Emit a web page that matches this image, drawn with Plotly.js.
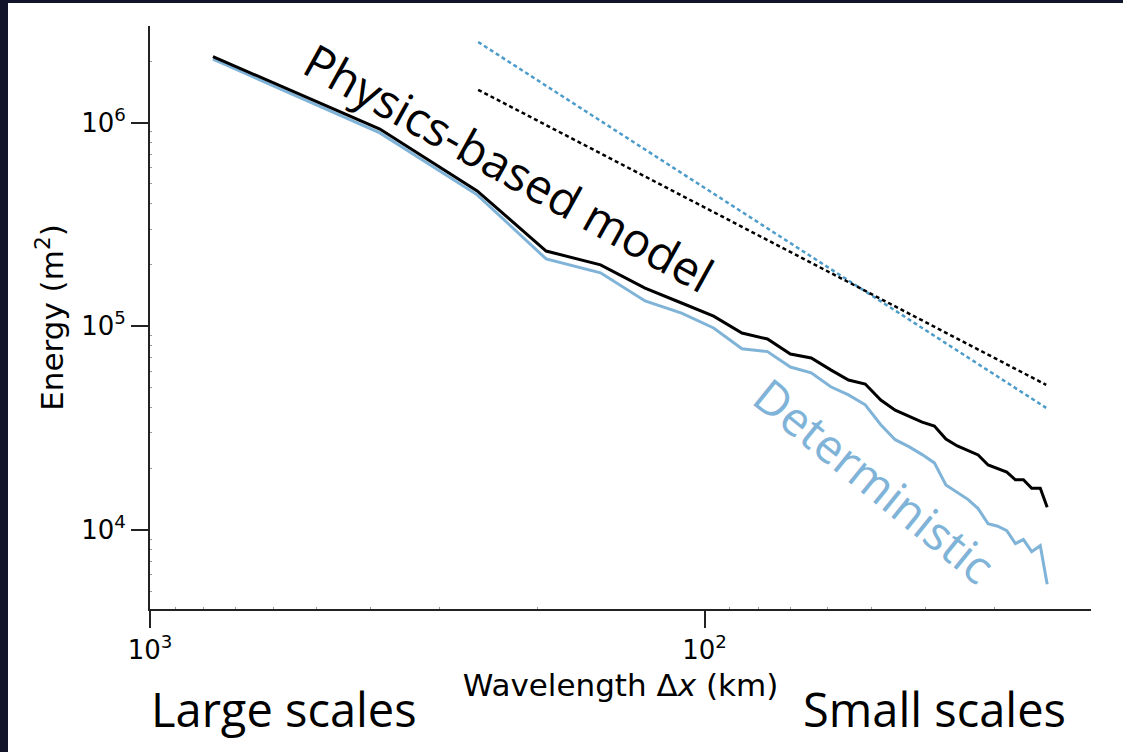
<!DOCTYPE html>
<html>
<head>
<meta charset="utf-8">
<script src="https://cdn.plot.ly/plotly-3.0.1.min.js"></script>
<style>
  html, body { margin: 0; padding: 0; background: #12152a; width: 1123px; height: 752px; overflow: hidden; }
  #chart { position: absolute; left: 8px; top: 3px; width: 1115px; height: 749px; background: #ffffff; }
</style>
</head>
<body>
<div id="chart"></div>
<script>
// Wavelength (km) of each spectral point
const wavelengthKm = [770, 385, 257, 193, 154, 128, 110, 96.3, 85.6, 77, 70, 64.2, 59.2, 55, 51.3, 48.1,
                      45.3, 42.8, 40.5, 38.5, 36.7, 35, 33.5, 32.1, 30.8, 29.6, 28.5, 27.5, 26.6, 25.7, 24.8, 24.1];
// Energy (m^2) – physics-based model (black)
const physicsEnergy = [2.11e6, 9.3e5, 4.62e5, 2.34e5, 2.0e5, 1.54e5, 1.30e5, 1.12e5, 9.25e4, 8.65e4, 7.3e4, 6.98e4,
                       6.1e4, 5.44e4, 5.2e4, 4.34e4, 3.87e4, 3.62e4, 3.38e4, 3.23e4, 2.79e4, 2.58e4, 2.46e4, 2.33e4,
                       2.08e4, 1.99e4, 1.92e4, 1.76e4, 1.76e4, 1.60e4, 1.60e4, 1.29e4];
// Energy (m^2) – deterministic model (light blue)
const deterministicEnergy = [2.05e6, 8.9e5, 4.42e5, 2.14e5, 1.83e5, 1.33e5, 1.16e5, 9.8e4, 7.75e4, 7.5e4, 6.3e4, 5.9e4,
                             5.04e4, 4.6e4, 4.11e4, 3.28e4, 2.77e4, 2.56e4, 2.34e4, 2.13e4, 1.66e4, 1.52e4, 1.41e4, 1.27e4,
                             1.07e4, 1.04e4, 9.9e3, 8.55e3, 8.95e3, 7.8e3, 8.35e3, 5.4e3];
// Reference slope lines (dotted)
const refWavelengthKm = [256, 24.2];
const refPhysicsEnergy = [1.45e6, 5.15e4];
const refDeterministicEnergy = [2.49e6, 3.97e4];

const BLUE = '#80b3d8';
const BLUE_DASH = '#4d9cca';

const traces = [
  { x: wavelengthKm, y: deterministicEnergy, type: 'scatter', mode: 'lines', name: 'Deterministic',
    line: { color: BLUE, width: 3 } },
  { x: wavelengthKm, y: physicsEnergy, type: 'scatter', mode: 'lines', name: 'Physics-based model',
    line: { color: '#000000', width: 3 } },
  { x: refWavelengthKm, y: refDeterministicEnergy, type: 'scatter', mode: 'lines', name: 'Deterministic slope',
    line: { color: BLUE_DASH, width: 2.5, dash: '4px,3px' } },
  { x: refWavelengthKm, y: refPhysicsEnergy, type: 'scatter', mode: 'lines', name: 'Physics slope',
    line: { color: '#000000', width: 2.5, dash: '4px,3px' } }
];

const tickFont = { family: 'DejaVu Sans', size: 26, color: '#000000' };
const labelFont = { family: 'DejaVu Sans', size: 31, color: '#000000' };
const noteFont = (c) => ({ family: 'Open Sans', size: 47, color: c });

const layout = {
  width: 1115, height: 749,
  margin: { l: 142, r: 32, t: 23, b: 143 },
  paper_bgcolor: '#ffffff', plot_bgcolor: '#ffffff',
  showlegend: false,
  xaxis: {
    type: 'log', range: [3, 1.303], autorange: false,
    showgrid: false, zeroline: false,
    showline: true, linecolor: '#222222', linewidth: 2,
    ticks: 'outside', ticklen: 17, tickwidth: 2, tickcolor: '#222222',
    tickvals: [1000, 100], ticktext: ['10<sup>3</sup>', '10<sup>2</sup>'],
    tickfont: tickFont,
    minor: { ticks: 'inside', ticklen: 2, tickwidth: 1, tickcolor: '#999999',
             tickvals: [900, 800, 700, 600, 500, 400, 300, 200, 90, 80, 70, 60, 50, 40, 30, 20] },
    title: { text: 'Wavelength Δ<i>x</i> (km)', font: labelFont, standoff: 10 }
  },
  yaxis: {
    type: 'log', range: [3.6106, 6.4748], autorange: false,
    showgrid: false, zeroline: false,
    showline: true, linecolor: '#222222', linewidth: 2,
    ticks: 'outside', ticklen: 17, tickwidth: 2, tickcolor: '#222222',
    tickvals: [1e4, 1e5, 1e6], ticktext: ['10<sup>4</sup>', '10<sup>5</sup>', '10<sup>6</sup>'],
    tickfont: tickFont,
    minor: { ticks: 'inside', ticklen: 2, tickwidth: 1, tickcolor: '#999999',
             tickvals: [5000, 6000, 7000, 8000, 9000, 2e4, 3e4, 4e4, 5e4, 6e4, 7e4, 8e4, 9e4,
                        2e5, 3e5, 4e5, 5e5, 6e5, 7e5, 8e5, 9e5, 2e6] },
    title: { text: 'Energy (m<sup>2</sup>)', font: labelFont, standoff: 8 }
  },
  annotations: [
    { xref: 'paper', yref: 'paper', x: 0.381, y: 0.758, text: 'Physics-based model', showarrow: false,
      textangle: 29, xanchor: 'center', yanchor: 'middle', font: noteFont('#000000') },
    { xref: 'paper', yref: 'paper', x: 0.770, y: 0.222, text: 'Deterministic', showarrow: false,
      textangle: 39, xanchor: 'center', yanchor: 'middle', font: noteFont(BLUE) },
    { xref: 'paper', yref: 'paper', x: 0.1424, y: -0.172, text: 'Large scales', showarrow: false,
      xanchor: 'center', yanchor: 'middle', font: noteFont('#000000') },
    { xref: 'paper', yref: 'paper', x: 0.8332, y: -0.172, text: 'Small scales', showarrow: false,
      xanchor: 'center', yanchor: 'middle', font: noteFont('#000000') }
  ]
};

Plotly.newPlot('chart', traces, layout, { displayModeBar: false, staticPlot: true });
</script>
</body>
</html>
